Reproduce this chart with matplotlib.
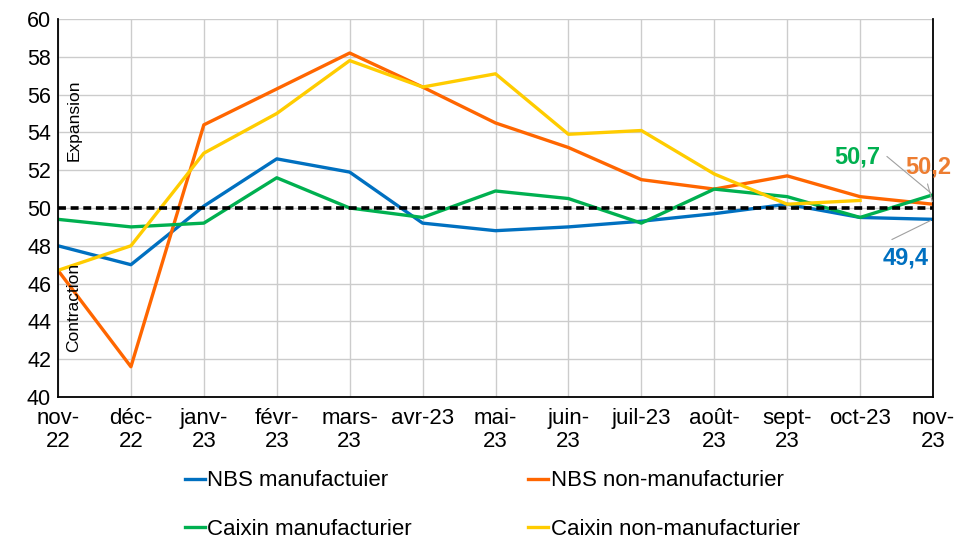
import numpy as np
import matplotlib.pyplot as plt

plt.rcParams['font.family'] = ['Liberation Sans', 'DejaVu Sans']

# Données
mois = ['nov-\n22', 'déc-\n22', 'janv-\n23', 'févr-\n23', 'mars-\n23', 'avr-23', 'mai-\n23',
        'juin-\n23', 'juil-23', 'août-\n23', 'sept-\n23', 'oct-23', 'nov-\n23']
nbs_manuf = [48.0, 47.0, 50.1, 52.6, 51.9, 49.2, 48.8, 49.0, 49.3, 49.7, 50.2, 49.5, 49.4]
nbs_non_manuf = [46.7, 41.6, 54.4, 56.3, 58.2, 56.4, 54.5, 53.2, 51.5, 51.0, 51.7, 50.6, 50.2]
caixin_manuf = [49.4, 49.0, 49.2, 51.6, 50.0, 49.5, 50.9, 50.5, 49.2, 51.0, 50.6, 49.5, 50.7]
caixin_non_manuf = [46.7, 48.0, 52.9, 55.0, 57.8, 56.4, 57.1, 53.9, 54.1, 51.8, 50.2, 50.4, np.nan]
seuil = 50

x = np.arange(len(mois))

fig = plt.figure(figsize=(9.57, 5.49), dpi=100)
ax = fig.add_axes([58 / 957, 1 - 397 / 549, 875 / 957, 378 / 549])

l1, = ax.plot(x, nbs_manuf, color='#0070C0', lw=2.4, label='NBS manufactuier')
l2, = ax.plot(x, nbs_non_manuf, color='#FF6600', lw=2.4, label='NBS non-manufacturier')
l3, = ax.plot(x, caixin_manuf, color='#00B050', lw=2.4, label='Caixin manufacturier')
l4, = ax.plot(x, caixin_non_manuf, color='#FFCC00', lw=2.4, label='Caixin non-manufacturier')
ax.plot(x, [seuil] * len(x), color='black', lw=2.6, ls=(0, (2.2, 1.3)))

ax.set_xlim(0, len(mois) - 1)
ax.set_ylim(40, 60)
ax.set_yticks(range(40, 61, 2))
ax.set_xticks(x)
ax.set_xticklabels(mois, fontsize=16, linespacing=1.1)
ax.tick_params(axis='y', labelsize=15.5, length=0, pad=5)
ax.tick_params(axis='x', length=0, pad=8)
ax.grid(True, color='#cccccc', lw=1)
ax.set_axisbelow(True)
for s in ['left', 'right', 'bottom']:
    ax.spines[s].set_color('black')
    ax.spines[s].set_linewidth(1.3)
ax.spines['top'].set_visible(False)

ax.text(0.22, 54.65, 'Expansion', rotation=90, fontsize=12.5, ha='center', va='center')
ax.text(0.22, 44.75, 'Contraction', rotation=90, fontsize=12.5, ha='center', va='center')

# Étiquettes des dernières valeurs
n = len(x) - 1
ax.annotate('50,7', xy=(n, caixin_manuf[-1]), xytext=(10.96, 52.7), color='#00B050',
            fontsize=17, fontweight='bold', ha='center', va='center',
            arrowprops=dict(arrowstyle='-', color='#a0a0a0', lw=0.8, shrinkA=2, shrinkB=2,
                            relpos=(1.1, 0.6)))
ax.annotate('50,2', xy=(n, nbs_non_manuf[-1]), xytext=(11.62, 52.17), color='#ED7D31',
            fontsize=17, fontweight='bold', ha='left', va='center', annotation_clip=False,
            arrowprops=dict(arrowstyle='-', color='#a0a0a0', lw=0.8, shrinkA=2, shrinkB=2,
                            relpos=(0.45, 0)))
ax.annotate('49,4', xy=(n, nbs_manuf[-1]), xytext=(11.62, 47.35), color='#0070C0',
            fontsize=17, fontweight='bold', ha='center', va='center',
            arrowprops=dict(arrowstyle='-', color='#a0a0a0', lw=0.8, shrinkA=4, shrinkB=2,
                            relpos=(0.1, 1.2)))

fig.legend(handles=[l1, l3, l2, l4], loc='lower left', bbox_to_anchor=(176 / 957, 0.0), ncol=2,
           frameon=False, fontsize=16, handlelength=0.9, handletextpad=0.1, columnspacing=5.25,
           labelspacing=1.25, borderaxespad=0.0)

fig.savefig('out.png', dpi=100)
